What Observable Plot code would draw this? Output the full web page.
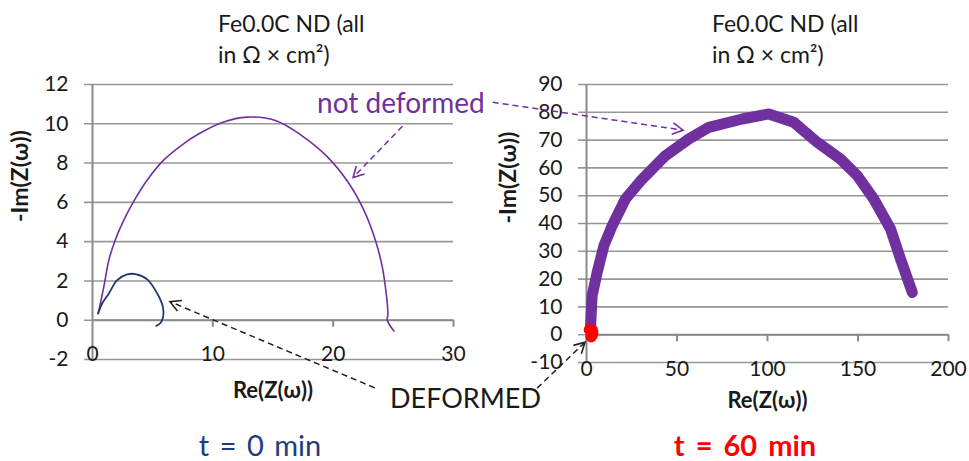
<!DOCTYPE html>
<html><head><meta charset="utf-8">
<script src="https://cdn.jsdelivr.net/npm/d3@7"></script>
<script src="https://cdn.jsdelivr.net/npm/@observablehq/plot@0.6"></script>
<style>
body{margin:0;background:#fff;font-family:Lato,"Open Sans",sans-serif}
#wrap{position:relative;width:969px;height:461px;overflow:hidden;background:#fff}
.panel{position:absolute;top:0}
.lbl{position:absolute;white-space:nowrap;line-height:1}
#overlay{position:absolute;left:0;top:0;pointer-events:none}
</style></head><body><div id="wrap"></div>
<script>
// ---- data ----
const nd0Re = [0.47, 0.94, 1.36, 1.9, 2.6, 3.57, 4.55, 5.93, 7.45, 8.84, 10.78, 12.86, 15.2, 17.3, 19.5, 21.2, 22.55, 23.5, 24.08, 24.44, 24.55, 24.5, 25.05];
const nd0Im = [0.34, 1.7, 3.06, 4.1, 5.1, 6.2, 7.14, 8.16, 8.93, 9.49, 10.07, 10.34, 10.17, 9.44, 8.33, 7.06, 5.6, 4.08, 2.72, 1.19, 0.3, 0.0, -0.55];
const d0Re = [0.47, 0.8, 1.36, 2.05, 2.88, 3.57, 4.55, 5.38, 5.85, 5.87, 5.65, 5.3];
const d0Im = [0.34, 0.85, 1.36, 2.04, 2.33, 2.35, 2.08, 1.36, 0.68, 0.17, -0.14, -0.29];
const nd60Re = [2.2, 3.1, 5.9, 9.6, 14.2, 21.5, 30.8, 43.6, 56.5, 67.6, 86, 100.7, 114.5, 127.5, 140.3, 149.6, 158.7, 168, 173.5, 180];
const nd60Im = [2.0, 14, 22.4, 32, 39.2, 48.8, 56, 64.4, 70.4, 74.6, 77.6, 79.4, 76.4, 69.2, 63.2, 57.2, 48.8, 38, 27.2, 15.2];
const d60Re = [1.8, 3.0, 3.3, 2.6];
const d60Im = [1.8, 1.6, 0.4, -0.6];
const xTicks0 = [0, 10, 20, 30];
const yTicks0 = [-2, 0, 2, 4, 6, 8, 10, 12];
const xTicks60 = [0, 50, 100, 150, 200];
const yTicks60 = [-10, 0, 10, 20, 30, 40, 50, 60, 70, 80, 90];
const titleLines = ["Fe0.0C ND (all", "in Ω × cm²)"];
const xLabel = "Re(Z(ω))";
const yLabel = "-Im(Z(ω))";
const caption0 = "t = 0 min";
const caption60 = "t = 60 min";
const annNotDeformed = "not deformed";
const annDeformed = "DEFORMED";

const PURPLE = "#7030a0", NAVY = "#1f3a70", GRID = "#979797", TXT = "#1a1a1a";
const toPts = (xs, ys) => xs.map((x, i) => ({x, y: ys[i]}));

function panel(o) {
  return Plot.plot({
    width: o.width, height: 461,
    marginLeft: o.mL, marginRight: o.mR, marginTop: 84, marginBottom: o.mB,
    x: {domain: o.xDom, axis: null},
    y: {domain: o.yDom, axis: null},
    style: {fontFamily: "Lato, sans-serif", background: "transparent", overflow: "visible"},
    marks: [
      Plot.ruleY(o.yTicks, {stroke: GRID, strokeWidth: 1.6, insetLeft: -8}),
      Plot.ruleX([o.xDom[0]], {stroke: "#8a8a8a", strokeWidth: 2}),
      Plot.ruleY([0], {stroke: "#8a8a8a", strokeWidth: 2}),
      Plot.ruleX(o.xTicks.slice(1), {y1: 0, y2: 0, insetBottom: -7, stroke: "#8a8a8a", strokeWidth: 2}),
      Plot.text(o.yTicks, {x: o.xDom[0], y: d => d, text: d => String(d), textAnchor: "end", dx: -24, fontSize: 21, fill: TXT}),
      Plot.text(o.xTicks, {x: d => d, y: o.yDom[0], text: d => String(d), dy: o.xLabDy, fontSize: 21, fill: TXT}),
      Plot.text([yLabel], {frameAnchor: "left", rotate: -90, dx: o.yTitleDx, fontSize: 23, fontWeight: "bold", fill: TXT}),
      Plot.text([xLabel], {frameAnchor: "bottom", dy: o.xTitleDy, fontSize: 22, fontWeight: "bold", fill: TXT}),
      ...o.series
    ]
  });
}

const left = panel({
  width: 480, mL: 92, mR: 27, mB: 102, xDom: [0, 30], yDom: [-2, 12],
  xTicks: xTicks0, yTicks: yTicks0, xLabDy: -5, yTitleDx: -72, xTitleDy: 38,
  series: [
    Plot.line(toPts(nd0Re, nd0Im), {x: "x", y: "y", stroke: PURPLE, strokeWidth: 1.6, curve: "catmull-rom"}),
    Plot.line(toPts(d0Re, d0Im), {x: "x", y: "y", stroke: NAVY, strokeWidth: 1.8, curve: "catmull-rom"})
  ]
});
const right = panel({
  width: 489, mL: 106, mR: 21, mB: 99, xDom: [0, 200], yDom: [-10, 90],
  xTicks: xTicks60, yTicks: yTicks60, xLabDy: 7, yTitleDx: -78, xTitleDy: 45,
  series: [
    Plot.line(toPts(nd60Re, nd60Im), {x: "x", y: "y", stroke: PURPLE, strokeWidth: 11, strokeLinecap: "round", strokeLinejoin: "round"}),
    Plot.line(toPts(d60Re, d60Im), {x: "x", y: "y", stroke: "#ff0000", strokeWidth: 12, strokeLinecap: "round", strokeLinejoin: "round"})
  ]
});

const wrap = document.getElementById("wrap");
left.classList.add("panel"); left.style.left = "0px";
right.classList.add("panel"); right.style.left = "480px";
wrap.appendChild(left); wrap.appendChild(right);

function addLabel(text, x, y, css) {
  const d = document.createElement("div");
  d.className = "lbl"; d.textContent = text;
  d.style.left = x + "px"; d.style.top = y + "px";
  Object.assign(d.style, css);
  wrap.appendChild(d);
  return d;
}
// titles
[218, 712].forEach(x => {
  titleLines.forEach((t, i) => addLabel(t, x, 12 + i * 31, {fontSize: "23px", color: TXT}));
});
// captions
addLabel(caption0, 260, 430, {fontSize: "29px", color: "#203c80", transform: "translateX(-50%)", wordSpacing: "3px"});
addLabel(caption60, 745, 430, {fontSize: "29px", color: "#ff0000", fontWeight: "bold", transform: "translateX(-50%)", wordSpacing: "4px"});

// annotations overlay (arrows anchored in each panel's data coordinates)
const lx = left.scale("x"), ly = left.scale("y");
const rx = right.scale("x"), ry = right.scale("y");
const L = (x, y) => [lx.apply(x), ly.apply(y)];
const R = (x, y) => [rx.apply(x) + 480, ry.apply(y)];
const svg = d3.select(wrap).append("svg").attr("id", "overlay").attr("width", 969).attr("height", 461);
function arrow(from, to, color) {
  svg.append("line").attr("x1", from[0]).attr("y1", from[1]).attr("x2", to[0]).attr("y2", to[1])
    .attr("stroke", color).attr("stroke-width", 1.5).attr("stroke-dasharray", "6,4");
  const a = Math.atan2(from[1] - to[1], from[0] - to[0]);
  const h = 12, s = 0.5;
  const p1 = [to[0] + h * Math.cos(a + s), to[1] + h * Math.sin(a + s)];
  const p2 = [to[0] + h * Math.cos(a - s), to[1] + h * Math.sin(a - s)];
  svg.append("path").attr("d", `M${p1}L${to}L${p2}`).attr("fill", "none").attr("stroke", color).attr("stroke-width", 1.6);
}
arrow(L(25.8, 9.85), L(21.7, 7.24), PURPLE);
arrow(L(33.3, 11.07), R(53.6, 73.4), PURPLE);
arrow(L(23.5, -3.47), L(6.48, 0.92), "#222");
arrow(R(-27, -19.4), R(-0.55, -2.9), "#222");
svg.append("text").attr("x", L(18.7, 0)[0]).attr("y", 102).attr("dominant-baseline", "central")
  .attr("font-family", "Lato, sans-serif").attr("font-size", 28).attr("fill", PURPLE).text(annNotDeformed);
svg.append("text").attr("x", 390).attr("y", 397).attr("dominant-baseline", "central")
  .attr("font-family", "Lato, sans-serif").attr("font-size", 27).attr("fill", TXT).text(annDeformed);
</script></body></html>
